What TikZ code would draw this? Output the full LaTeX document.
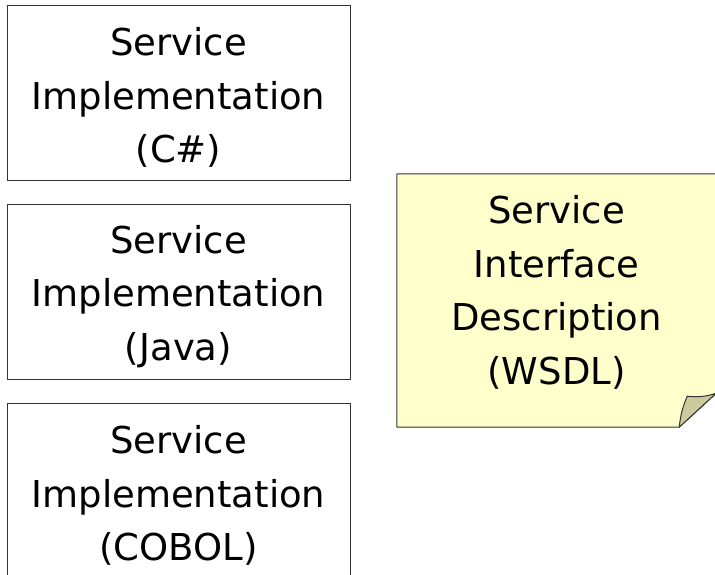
\documentclass[tikz,border=0pt]{standalone}
\usepackage{fontspec}
\setmainfont{DejaVu Sans}
\usetikzlibrary{positioning}
\definecolor{noteyellow}{HTML}{FFFFCC}
\definecolor{notefold}{HTML}{CBCB9E}
\definecolor{edgegray}{HTML}{333333}
\newcommand\diagfont{\fontsize{37}{53.5}\selectfont}
% pushes the three lines a little below the middle of a box
\newcommand\toproom{\rule{0pt}{38pt}}
\tikzset{
    %Define style for implementation boxes
    implbox/.style={
           rectangle,
           draw=edgegray, line width=1pt,
           minimum width=343pt,
           minimum height=175pt,
           inner sep=0pt,
           align=center,
           font=\diagfont},
    % Define style for the note
    notebox/.style={
           rectangle,
           minimum width=319pt,
           minimum height=253pt,
           inner sep=0pt,
           align=center,
           font=\diagfont},
    % Define outline style
    noteline/.style={
           draw=edgegray,
           line width=1pt,
           line join=round}
}

\begin{document}
\begin{tikzpicture}[x=1pt,y=-1pt,node distance=23pt]
         \useasboundingbox (0,0) rectangle (715,574);
         \clip (0,0) rectangle (715,574);
         %nodes
          \node[implbox] (csharp) at (178.5,92.5) {\toproom Service\\Implementation\\(C\#)};
          \node[implbox, below=of csharp] (java) {\toproom Service\\Implementation\\(Java)};
          \node[implbox, below=of java] (cobol) {\toproom Service\\Implementation\\(COBOL)};
         % note with folded corner
          \node[notebox] (wsdl) at (556.5,300.5) {};
          \coordinate (foldtip) at ([xshift=-37pt]wsdl.south east);
          \coordinate (foldtop) at ([yshift=34pt]wsdl.south east);
          \coordinate (foldin) at ([xshift=-29pt,yshift=31pt]wsdl.south east);
          \path[noteline, fill=noteyellow] (wsdl.north west) -- (wsdl.north east)
               -- (foldtop) -- (foldtip) -- (wsdl.south west) -- cycle;
          \path[noteline, fill=notefold] (foldtip) to[bend left=8] (foldin)
               to[bend right=12] (foldtop) -- cycle;
          \node[notebox, yshift=8pt] (wsdltext) at (wsdl) {Service\\Interface\\Description\\(WSDL)};
\end{tikzpicture}
\end{document}
